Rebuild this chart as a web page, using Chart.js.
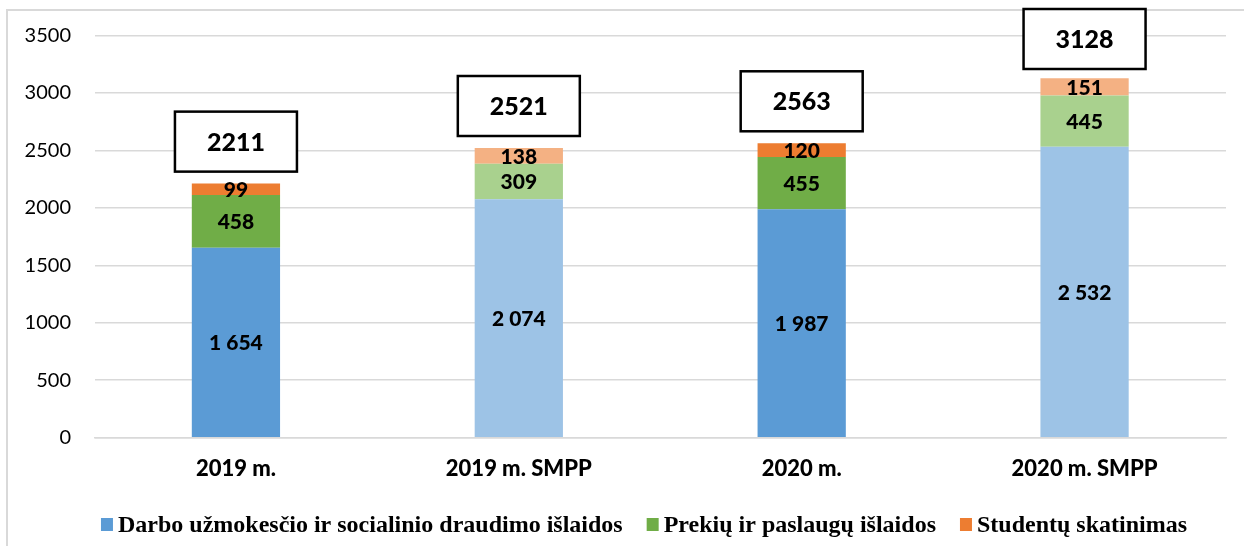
<!DOCTYPE html>
<html>
<head>
<meta charset="utf-8">
<script src="https://cdn.jsdelivr.net/npm/chart.js@4"></script>
<style>
  html, body { margin: 0; padding: 0; background: #fff; }
  canvas { display: block; }
</style>
</head>
<body>
<canvas id="myChart" width="1244" height="546"></canvas>
<script>
var categories = ['2019 m.', '2019 m. SMPP', '2020 m.', '2020 m. SMPP'];
var seriesNames = [
  'Darbo užmokesčio ir socialinio draudimo išlaidos',
  'Prekių ir paslaugų išlaidos',
  'Studentų skatinimas'
];
var wages = [1654, 2074, 1987, 2532];
var goods = [458, 309, 455, 445];
var students = [99, 138, 120, 151];
var totals = [2211, 2521, 2563, 3128];
var yMin = 0, yMax = 3500, yStep = 500;

// plain years darker, SMPP columns lighter
var blues = ['#5B9BD5', '#9DC3E6', '#5B9BD5', '#9DC3E6'];
var greens = ['#70AD47', '#A9D18E', '#70AD47', '#A9D18E'];
var oranges = ['#ED7D31', '#F4B183', '#ED7D31', '#F4B183'];

function spaced(v) {
  return String(v).replace(/\B(?=(\d{3})+(?!\d))/g, ' ');
}

var frame = {
  id: 'frame',
  beforeDraw: function(chart) {
    var c = chart.ctx;
    c.save();
    c.strokeStyle = '#D9D9D9';
    c.lineWidth = 2;
    c.beginPath();
    c.moveTo(7, chart.height);
    c.lineTo(7, 10);
    c.lineTo(chart.width, 10);
    c.stroke();
    c.restore();
  }
};

var valueLabels = {
  id: 'valueLabels',
  afterDatasetsDraw: function(chart) {
    var c = chart.ctx;
    c.save();
    c.font = '900 21px Lato';
    c.fillStyle = '#000';
    c.textAlign = 'center';
    c.textBaseline = 'middle';
    chart.data.datasets.forEach(function(ds, i) {
      chart.getDatasetMeta(i).data.forEach(function(bar, j) {
        c.fillText(spaced(ds.data[j]), bar.x, (bar.y + bar.base) / 2 + 1);
      });
    });

    // total boxes above each stack
    var last = chart.getDatasetMeta(chart.data.datasets.length - 1);
    c.font = '900 25px Lato';
    last.data.forEach(function(bar, j) {
      var w = 122, h = 60;
      var y0 = Math.max(9, bar.y - 12 - h);
      c.fillStyle = '#fff';
      c.fillRect(bar.x - w / 2, y0, w, h);
      c.lineWidth = 2.5;
      c.strokeStyle = '#000';
      c.strokeRect(bar.x - w / 2, y0, w, h);
      c.fillStyle = '#000';
      c.fillText(String(totals[j]), bar.x, y0 + h / 2 + 1);
    });
    c.restore();
  }
};

var legendRow = {
  id: 'legendRow',
  afterDraw: function(chart) {
    var c = chart.ctx;
    c.save();
    c.font = 'bold 24px "Liberation Serif"';
    c.textAlign = 'left';
    c.textBaseline = 'alphabetic';
    var box = 12, gapText = 5, gapItem = 24;
    var widths = seriesNames.map(function(n) { return c.measureText(n).width; });
    var total = (seriesNames.length - 1) * gapItem;
    widths.forEach(function(w) { total += box + gapText + w; });
    var x = chart.width / 2 + 22 - total / 2;
    var baseY = 532;
    chart.data.datasets.forEach(function(ds, i) {
      c.fillStyle = ds.backgroundColor[0];
      c.fillRect(x, baseY - 14, box, 13);
      c.fillStyle = '#000';
      c.fillText(ds.label, x + box + gapText, baseY);
      x += box + gapText + widths[i] + gapItem;
    });
    c.restore();
  }
};

Chart.defaults.font.family = 'Lato';

var ctx = document.getElementById('myChart');

var myChart = new Chart(ctx, {
  type: 'bar',
  data: {
    labels: categories,
    datasets: [
      { label: seriesNames[0], data: wages, backgroundColor: blues },
      { label: seriesNames[1], data: goods, backgroundColor: greens },
      { label: seriesNames[2], data: students, backgroundColor: oranges }
    ]
  },
  options: {
    responsive: false,
    animation: false,
    datasets: {
      bar: { barPercentage: 0.312, categoryPercentage: 1, borderWidth: 0 }
    },
    layout: {
      padding: { top: 33.5, right: 18, bottom: 58.3, left: 0 }
    },
    plugins: {
      legend: { display: false },
      tooltip: { enabled: false }
    },
    scales: {
      x: {
        stacked: true,
        grid: { display: false, drawTicks: false },
        border: { display: true, color: '#D9D9D9', width: 1.5 },
        ticks: { color: '#000', font: { size: 22, weight: '900' }, padding: 18 },
        afterFit: function(s) { s.height = 50; }
      },
      y: {
        stacked: true,
        min: yMin,
        max: yMax,
        ticks: {
          stepSize: yStep,
          color: '#000',
          font: { size: 20 },
          padding: 23.5,
          callback: function(v) { return String(v); }
        },
        grid: { color: '#D9D9D9', lineWidth: 1.5, drawTicks: false },
        border: { display: false },
        afterFit: function(s) { s.width = 94.5; }
      }
    }
  },
  plugins: [frame, valueLabels, legendRow]
});
</script>
</body>
</html>
